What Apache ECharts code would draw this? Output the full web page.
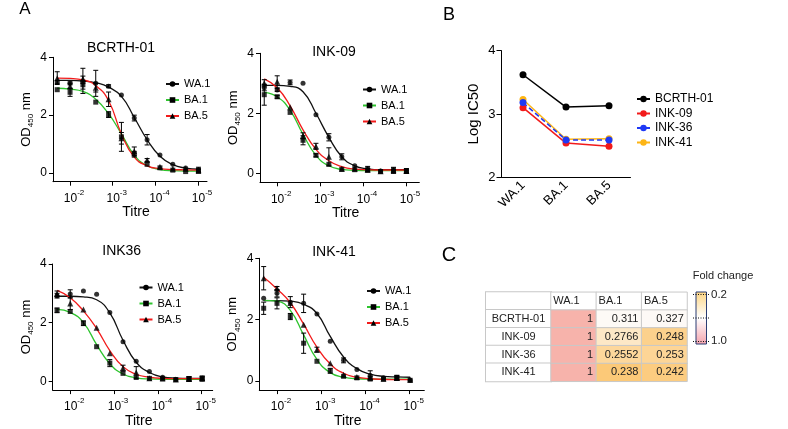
<!DOCTYPE html>
<html>
<head>
<meta charset="utf-8">
<script src="https://cdn.jsdelivr.net/npm/echarts@6.0.0/dist/echarts.min.js"></script>
<style>
html, body { margin: 0; padding: 0; background: #fff; }
#main { width: 788px; height: 429px; }
</style>
</head>
<body>
<div id="main"></div>
<script>
// ---- data ----
var dilutions = [50, 100, 200, 400, 800, 1600, 3200, 6400, 12800, 25600, 51200, 102400];
var variants = ['WA.1', 'BA.1', 'BA.5'];

// panel A, rows: WA.1, BA.1, BA.5 (OD450 mean, sd, fitted curve)
var bcrthMean = [
    [3.15, 3.1, 3.15, 3.1, 3.0, 2.7, 1.9, 1.15, 0.62, 0.3, 0.17, 0.12],
    [2.88, 2.79, 3.05, 2.45, 2.02, 1.25, 0.65, 0.3, 0.18, 0.1, 0.05, 0.06],
    [3.28, 3.0, 3.26, 2.95, 2.55, 1.2, 0.75, 0.45, 0.22, 0.15, 0.15, 0.1]
];
var bcrthSd = [
    [0.05, 0.05, 0.05, 0.45, 0.05, 0.03, 0.1, 0.18, 0.03, 0.03, 0.03, 0.08],
    [0.03, 0.14, 0.3, 0.03, 0.1, 0.5, 0.1, 0.03, 0.03, 0.03, 0.03, 0.06],
    [0.22, 0.1, 0.36, 0.15, 0.25, 0.2, 0.15, 0.05, 0.03, 0.03, 0.03, 0.05]
];
var bcrthFit = [
    [3.2, 3.2, 3.18, 3.12, 2.97, 2.65, 1.92, 1.15, 0.58, 0.29, 0.17, 0.13],
    [2.93, 2.9, 2.82, 2.55, 2.05, 1.35, 0.62, 0.25, 0.12, 0.08, 0.07, 0.07],
    [3.28, 3.27, 3.22, 3.02, 2.5, 1.35, 0.55, 0.25, 0.15, 0.12, 0.11, 0.1]
];

var ink09Mean = [
    [2.85, 2.78, 3.03, 3.0, 1.95, 1.2, 0.55, 0.25, 0.15, 0.08, 0.1, 0.08],
    [2.62, 2.55, 2.03, 1.1, 0.6, 0.3, 0.13, 0.12, 0.1, 0.06, 0.08, 0.06],
    [3.0, 3.05, 2.2, 1.25, 0.9, 0.55, 0.15, 0.15, 0.12, 0.07, 0.1, 0.08]
];
var ink09Sd = [
    [0.1, 0.05, 0.08, 0.02, 0.03, 0.12, 0.1, 0.03, 0.08, 0.03, 0.1, 0.08],
    [0.35, 0.05, 0.03, 0.15, 0.05, 0.03, 0.03, 0.03, 0.03, 0.03, 0.05, 0.05],
    [0.12, 0.2, 0.03, 0.1, 0.1, 0.3, 0.03, 0.03, 0.05, 0.03, 0.08, 0.06]
];
var ink09Fit = [
    [2.93, 2.93, 2.9, 2.72, 2.0, 1.2, 0.55, 0.25, 0.15, 0.12, 0.12, 0.12],
    [2.7, 2.55, 2.1, 1.3, 0.6, 0.25, 0.13, 0.1, 0.09, 0.09, 0.09, 0.09],
    [3.15, 2.85, 2.25, 1.45, 0.8, 0.42, 0.22, 0.14, 0.12, 0.11, 0.11, 0.11]
];

var ink36Mean = [
    [2.92, 2.98, 3.08, 2.97, 2.35, 1.35, 0.68, 0.33, 0.14, 0.06, 0.08, 0.09],
    [2.42, 2.38, 1.98, 1.18, 0.62, 0.27, 0.13, 0.1, 0.08, 0.06, 0.08, 0.09],
    [2.98, 2.65, 2.45, 1.83, 0.96, 0.45, 0.3, 0.1, 0.1, 0.06, 0.08, 0.1]
];
var ink36Sd = [
    [0.08, 0.14, 0.02, 0.02, 0.03, 0.03, 0.03, 0.03, 0.03, 0.03, 0.08, 0.08],
    [0.08, 0.03, 0.08, 0.03, 0.12, 0.03, 0.03, 0.03, 0.03, 0.03, 0.05, 0.05],
    [0.1, 0.2, 0.03, 0.03, 0.03, 0.1, 0.2, 0.03, 0.03, 0.03, 0.08, 0.08]
];
var ink36Fit = [
    [2.9, 2.9, 2.88, 2.78, 2.33, 1.4, 0.65, 0.3, 0.15, 0.11, 0.1, 0.1],
    [2.45, 2.35, 2.0, 1.25, 0.6, 0.25, 0.12, 0.08, 0.07, 0.07, 0.07, 0.07],
    [3.1, 2.85, 2.4, 1.8, 1.05, 0.5, 0.24, 0.14, 0.1, 0.09, 0.09, 0.09]
];

var ink41Mean = [
    [2.7, 2.86, 2.57, 2.53, 2.18, 1.29, 0.67, 0.37, 0.18, 0.1, 0.1, 0.02],
    [2.37, 2.53, 2.1, 1.23, 0.64, 0.33, 0.15, 0.1, 0.06, 0.05, 0.08, 0.02],
    [3.35, 3.02, 2.54, 1.83, 1.02, 0.58, 0.2, 0.13, 0.1, 0.08, 0.1, 0.04]
];
var ink41Sd = [
    [0.03, 0.12, 0.18, 0.3, 0.03, 0.03, 0.08, 0.03, 0.15, 0.03, 0.08, 0.03],
    [0.2, 0.18, 0.1, 0.33, 0.03, 0.08, 0.03, 0.03, 0.03, 0.03, 0.05, 0.03],
    [0.38, 0.06, 0.03, 0.03, 0.08, 0.03, 0.03, 0.03, 0.05, 0.03, 0.08, 0.03]
];
var ink41Fit = [
    [2.62, 2.62, 2.6, 2.5, 2.2, 1.45, 0.78, 0.4, 0.22, 0.15, 0.13, 0.12],
    [2.63, 2.6, 2.3, 1.5, 0.7, 0.27, 0.12, 0.07, 0.06, 0.06, 0.06, 0.06],
    [3.38, 3.0, 2.55, 1.85, 1.1, 0.55, 0.25, 0.12, 0.07, 0.05, 0.04, 0.04]
];

// panel B, log IC50
var ic50Variants = ['WA.1', 'BA.1', 'BA.5'];
var bcrth01Ic50 = [3.62, 3.11, 3.13];
var ink09Ic50 = [3.10, 2.54, 2.49];
var ink36Ic50 = [3.18, 2.59, 2.59];
var ink41Ic50 = [3.23, 2.60, 2.61];

// panel C, fold change
var foldRows = ['BCRTH-01', 'INK-09', 'INK-36', 'INK-41'];
var foldCols = ['WA.1', 'BA.1', 'BA.5'];
var foldWA1 = [1, 1, 1, 1];
var foldBA1 = [0.311, 0.2766, 0.2552, 0.238];
var foldBA5 = [0.327, 0.248, 0.253, 0.242];

// ---- chart ----
var FONT = 'Arial, "Liberation Sans", Helvetica, sans-serif';
var lineColors = ['#111111', '#2ec42e', '#f21b1b'];
var symbols = ['circle', 'rect', 'triangle'];
var symbolSizes = [5, 5, 6];
var logX = dilutions.map(function (d) { return Math.log10(d); });

var panels = [
    { title: 'BCRTH-01', mean: bcrthMean, sd: bcrthSd, fit: bcrthFit },
    { title: 'INK-09', mean: ink09Mean, sd: ink09Sd, fit: ink09Fit },
    { title: 'INK36', mean: ink36Mean, sd: ink36Sd, fit: ink36Fit },
    { title: 'INK-41', mean: ink41Mean, sd: ink41Sd, fit: ink41Fit }
];
var boxes = [
    { left: 53, top: 57.3, width: 154, height: 124.4, xMax: 5.21, tx: 121, ty: 48, lx: 165, ly: 78.5 },
    { left: 260, top: 53.3, width: 159.3, height: 129, xMax: 5.31, tx: 334, ty: 51.7, lx: 362, ly: 84 },
    { left: 52.7, top: 264, width: 160, height: 126.7, xMax: 5.25, tx: 121.7, ty: 251, lx: 138.5, ly: 282 },
    { left: 259.3, top: 258.3, width: 165, height: 132, xMax: 5.33, tx: 334, ty: 252.5, lx: 366, ly: 285.5 }
];

var grids = [], xAxes = [], yAxes = [], series = [], legends = [], graphics = [];

function renderErr(params, api) {
    var x = api.value(0), lo = api.value(1), hi = api.value(2);
    if (hi - lo < 0.08) return { type: 'group', children: [] };
    var p1 = api.coord([x, hi]), p2 = api.coord([x, lo]);
    var w = 2.5, st = { stroke: '#000', lineWidth: 1 };
    return {
        type: 'group',
        children: [
            { type: 'line', shape: { x1: p1[0], y1: p1[1], x2: p2[0], y2: p2[1] }, style: st },
            { type: 'line', shape: { x1: p1[0] - w, y1: p1[1], x2: p1[0] + w, y2: p1[1] }, style: st },
            { type: 'line', shape: { x1: p2[0] - w, y1: p2[1], x2: p2[0] + w, y2: p2[1] }, style: st }
        ]
    };
}

panels.forEach(function (p, k) {
    var b = boxes[k];
    grids.push({ left: b.left, top: b.top, width: b.width, height: b.height });
    xAxes.push({
        type: 'value', gridIndex: k, min: 1.6, max: b.xMax,
        name: 'Titre', nameLocation: 'middle', nameGap: 23,
        nameTextStyle: { fontSize: 14, color: '#000', padding: [0, 0, 0, 12] },
        axisLine: { onZero: false, lineStyle: { color: '#000', width: 1 } },
        axisTick: { customValues: [2, 3, 4, 5], length: 4, lineStyle: { color: '#000' } },
        axisLabel: {
            customValues: [2, 3, 4, 5], margin: 7, color: '#000', padding: [0, 0, 0, 8],
            formatter: function (v) { return '{b|10}{s|-' + v + '}'; },
            rich: {
                b: { fontSize: 12, lineHeight: 16, verticalAlign: 'bottom', fontFamily: FONT, color: '#000' },
                s: { fontSize: 8, lineHeight: 9, verticalAlign: 'top', fontFamily: FONT, color: '#000' }
            }
        },
        splitLine: { show: false }
    });
    yAxes.push({
        type: 'value', gridIndex: k, min: -0.3, max: 4,
        name: '{n|OD}{s|450}{n| nm}', nameLocation: 'middle', nameGap: 18,
        nameTextStyle: {
            color: '#000',
            rich: {
                n: { fontSize: 13, lineHeight: 17, fontFamily: FONT, color: '#000' },
                s: { fontSize: 8, lineHeight: 9, verticalAlign: 'bottom', fontFamily: FONT, color: '#000' }
            }
        },
        axisLine: { show: true, lineStyle: { color: '#000', width: 1 } },
        axisTick: { show: true, customValues: [0, 2, 4], length: 4, lineStyle: { color: '#000' } },
        axisLabel: { customValues: [0, 2, 4], fontSize: 12, color: '#000', margin: 6 },
        splitLine: { show: false }
    });
    variants.forEach(function (name, v) {
        series.push({
            type: 'line', name: name, xAxisIndex: k, yAxisIndex: k,
            data: logX.map(function (x, i) { return [x, p.fit[v][i]]; }),
            smooth: 0.5, showSymbol: false, symbol: symbols[v], symbolSize: symbolSizes[v],
            itemStyle: { color: '#000' },
            lineStyle: { color: lineColors[v], width: 1.3 },
            silent: true, z: 2
        });
        series.push({
            type: 'custom', name: name + ' sd', xAxisIndex: k, yAxisIndex: k,
            data: logX.map(function (x, i) { return [x, p.mean[v][i] - p.sd[v][i], p.mean[v][i] + p.sd[v][i]]; }),
            encode: { x: 0, y: [1, 2] },
            renderItem: renderErr, silent: true, z: 3
        });
        series.push({
            type: 'scatter', name: name + ' mean', xAxisIndex: k, yAxisIndex: k,
            data: logX.map(function (x, i) { return [x, p.mean[v][i]]; }),
            symbol: symbols[v], symbolSize: symbolSizes[v],
            itemStyle: { color: '#000' }, silent: true, z: 4
        });
    });
    legends.push({
        data: variants, orient: 'vertical', left: b.lx, top: b.ly, padding: 0,
        itemWidth: 13, itemHeight: 7, itemGap: 5, selectedMode: false,
        textStyle: { fontSize: 11, color: '#000' }
    });
    graphics.push({
        type: 'text', x: b.tx, y: b.ty,
        style: { text: p.title, font: '14px ' + FONT, fill: '#000', align: 'center', verticalAlign: 'middle' }
    });
});

// panel B
grids.push({ left: 501.5, top: 50.7, width: 129, height: 126.6 });
xAxes.push({
    type: 'category', gridIndex: 4, data: ic50Variants, boundaryGap: true,
    axisLine: { lineStyle: { color: '#000' } },
    axisTick: { alignWithLabel: true, length: 5, lineStyle: { color: '#000' } },
    axisLabel: { rotate: 45, fontSize: 13, color: '#000', margin: 6, interval: 0 }
});
yAxes.push({
    type: 'value', gridIndex: 4, min: 2, max: 4, interval: 1,
    name: 'Log IC50', nameLocation: 'middle', nameGap: 20,
    nameTextStyle: { fontSize: 15, color: '#000' },
    axisLine: { show: true, lineStyle: { color: '#000' } },
    axisTick: { show: true, length: 5, lineStyle: { color: '#000' } },
    axisLabel: { fontSize: 13, color: '#000', margin: 6 },
    splitLine: { show: false }
});
[
    { name: 'BCRTH-01', data: bcrth01Ic50, color: '#000000', type: 'solid' },
    { name: 'INK-41', data: ink41Ic50, color: '#fdb515', type: 'solid' },
    { name: 'INK-09', data: ink09Ic50, color: '#f21a1a', type: 'solid' },
    { name: 'INK-36', data: ink36Ic50, color: '#1f39f5', type: [5, 3] }
].forEach(function (s) {
    series.push({
        type: 'line', name: s.name, xAxisIndex: 4, yAxisIndex: 4, data: s.data,
        symbol: 'circle', symbolSize: 7, showSymbol: true,
        itemStyle: { color: s.color },
        lineStyle: { color: s.color, width: 1.5, type: s.type },
        silent: true
    });
});
legends.push({
    data: ['BCRTH-01', 'INK-09', 'INK-36', 'INK-41'], orient: 'vertical', left: 636, top: 93,
    padding: 0, itemWidth: 13, itemHeight: 8, itemGap: 2.5, selectedMode: false,
    textStyle: { fontSize: 12, color: '#000' }
});

// panel C table
grids.push({ left: 551, top: 292.3, width: 136, height: 89 });
xAxes.push({ type: 'category', gridIndex: 5, data: foldCols, show: false });
yAxes.push({
    type: 'category', gridIndex: 5, data: [''].concat(foldRows), inverse: true,
    axisLine: { show: false }, axisTick: { show: false },
    axisLabel: {
        margin: 0, interval: 0,
        formatter: function (v) { return '{c|' + (v || ' ') + '}'; },
        rich: {
            c: {
                width: 65, height: 17.8, lineHeight: 17.8, align: 'center', verticalAlign: 'middle',
                borderColor: '#c8c8c8', borderWidth: 1, backgroundColor: '#fff',
                fontSize: 11, color: '#222', fontFamily: FONT
            }
        }
    }
});
series.push({
    type: 'heatmap', name: 'header', xAxisIndex: 5, yAxisIndex: 5,
    data: foldCols.map(function (c, i) { return [i, 0, 0]; }),
    itemStyle: { color: '#ffffff', borderColor: '#c8c8c8', borderWidth: 1 },
    label: {
        show: true, position: 'insideLeft', distance: 3, fontSize: 11, color: '#222',
        formatter: function (p) { return foldCols[p.dataIndex]; }
    },
    emphasis: { disabled: true }, silent: true
});
var foldData = [];
[foldWA1, foldBA1, foldBA5].forEach(function (col, c) {
    col.forEach(function (v, r) { foldData.push([c, r + 1, v]); });
});
var foldSeriesIndex = series.length;
series.push({
    type: 'heatmap', name: 'fold change', xAxisIndex: 5, yAxisIndex: 5,
    data: foldData,
    itemStyle: { borderColor: '#c8c8c8', borderWidth: 1 },
    label: {
        show: true, position: 'insideRight', distance: 4, fontSize: 11, color: '#222',
        formatter: function (p) { return String(p.value[2]); }
    },
    emphasis: { disabled: true }, silent: true
});

// colour key and static text
graphics.push(
    { type: 'text', x: 25, y: 9.5, style: { text: 'A', font: '17px ' + FONT, fill: '#000', align: 'center', verticalAlign: 'middle' } },
    { type: 'text', x: 449, y: 15, style: { text: 'B', font: '18px ' + FONT, fill: '#000', align: 'center', verticalAlign: 'middle' } },
    { type: 'text', x: 449, y: 255, style: { text: 'C', font: '20px ' + FONT, fill: '#000', align: 'center', verticalAlign: 'middle' } },
    { type: 'text', x: 723, y: 276, style: { text: 'Fold change', font: '11px ' + FONT, fill: '#222', align: 'center', verticalAlign: 'middle' } },
    {
        type: 'rect', shape: { x: 696, y: 292, width: 10.5, height: 52 },
        style: {
            fill: new echarts.graphic.LinearGradient(0, 0, 0, 1, [
                { offset: 0, color: '#fdd583' },
                { offset: 0.5, color: '#ffffff' },
                { offset: 1, color: '#f4a3ad' }
            ]),
            stroke: '#2b3d73', lineWidth: 1
        }
    },
    { type: 'line', shape: { x1: 693, y1: 294.5, x2: 710, y2: 294.5 }, style: { stroke: '#111', lineWidth: 1, lineDash: [1, 1.5] } },
    { type: 'line', shape: { x1: 693, y1: 318, x2: 710, y2: 318 }, style: { stroke: '#111', lineWidth: 1, lineDash: [1, 1.5] } },
    { type: 'line', shape: { x1: 693, y1: 341.5, x2: 710, y2: 341.5 }, style: { stroke: '#111', lineWidth: 1, lineDash: [1, 1.5] } },
    { type: 'text', x: 711, y: 295, style: { text: '0.2', font: '11.5px ' + FONT, fill: '#222', align: 'left', verticalAlign: 'middle' } },
    { type: 'text', x: 711, y: 341, style: { text: '1.0', font: '11.5px ' + FONT, fill: '#222', align: 'left', verticalAlign: 'middle' } }
);

var chart = echarts.init(document.getElementById('main'));
chart.setOption({
    animation: false,
    backgroundColor: '#fff',
    textStyle: { fontFamily: FONT },
    grid: grids,
    xAxis: xAxes,
    yAxis: yAxes,
    legend: legends,
    visualMap: {
        type: 'continuous', show: false, seriesIndex: foldSeriesIndex, dimension: 2,
        min: 0.2, max: 1.0,
        inRange: {
            color: ['#fcab2a', '#fdfaf6', '#fcf6f6', '#fbeeed', '#fae3e1', '#f9d7d4', '#f8cbc6', '#f7bfb8', '#f7b3ab']
        }
    },
    series: series,
    graphic: graphics
});
</script>
</body>
</html>
